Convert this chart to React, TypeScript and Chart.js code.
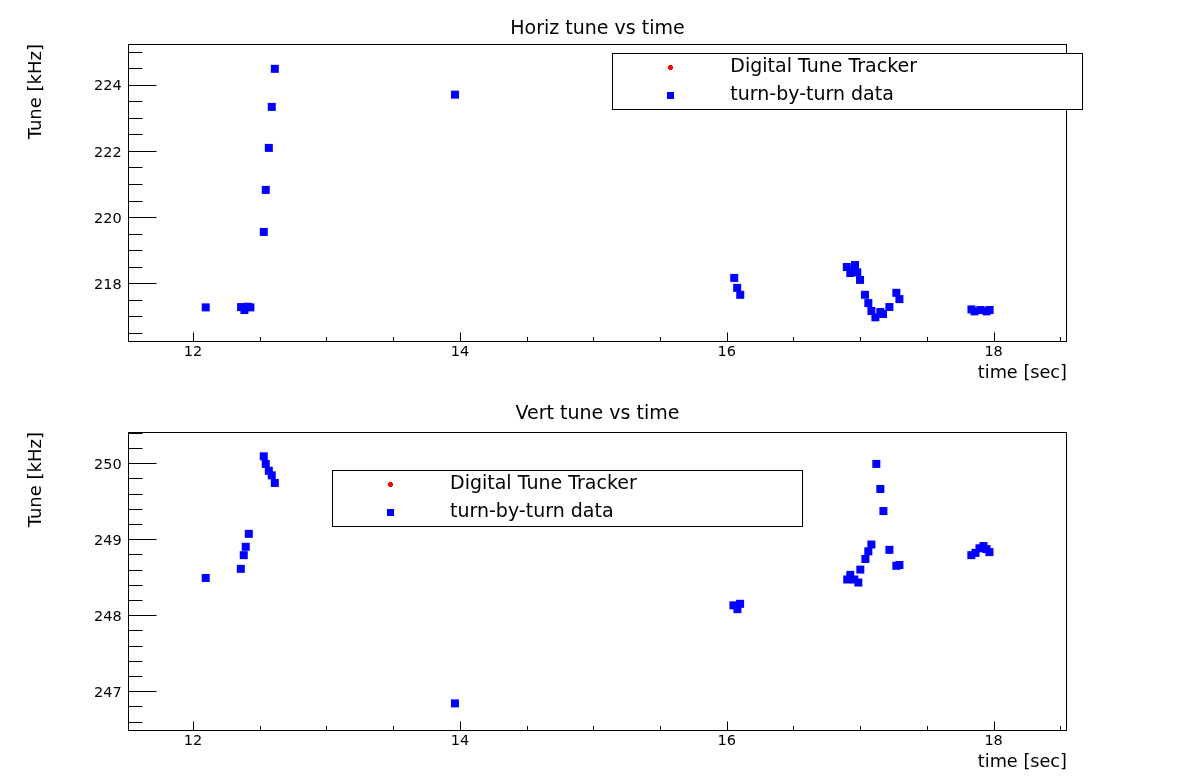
import React, { useEffect, useRef } from "react";
import { Chart, registerables } from "chart.js";

Chart.register(...registerables);

const FONT = "'DejaVu Sans', 'Liberation Sans', sans-serif";

// ---------- data ----------
const horizTime = [
  12.095, 12.36, 12.385, 12.41, 12.43, 12.53, 12.545, 12.568, 12.59, 12.613,
  13.963, 16.056, 16.078, 16.101, 16.9, 16.926, 16.961, 16.978, 16.999, 17.036,
  17.061, 17.084, 17.114, 17.151, 17.171, 17.219, 17.271, 17.294, 17.834, 17.857,
  17.902, 17.947, 17.97,
];
const horizTune = [
  217.27, 217.28, 217.19, 217.29, 217.27, 219.55, 220.82, 222.09, 223.33, 224.48,
  223.7, 218.16, 217.86, 217.65, 218.49, 218.31, 218.55, 218.33, 218.1, 217.65,
  217.4, 217.16, 216.97, 217.13, 217.07, 217.28, 217.71, 217.52, 217.21, 217.15,
  217.19, 217.15, 217.19,
];

const vertTime = [
  12.095, 12.358, 12.38, 12.395, 12.418, 12.53, 12.545, 12.568, 12.59, 12.613,
  13.963, 16.05, 16.08, 16.1, 16.903, 16.926, 16.956, 16.986, 17.001, 17.039,
  17.061, 17.084, 17.121, 17.151, 17.174, 17.219, 17.271, 17.294, 17.833, 17.864,
  17.894, 17.924, 17.947, 17.969,
];
const vertTune = [
  248.49, 248.61, 248.79, 248.9, 249.07, 250.09, 249.99, 249.9, 249.84, 249.74,
  246.84, 248.13, 248.08, 248.15, 248.47, 248.53, 248.47, 248.43, 248.6, 248.74,
  248.84, 248.93, 249.99, 249.66, 249.37, 248.86, 248.65, 248.66, 248.79, 248.82,
  248.88, 248.91, 248.87, 248.83,
];

// Digital Tune Tracker series (no points inside the plotted range)
const dttHorizTime: number[] = [];
const dttHorizTune: number[] = [];
const dttVertTime: number[] = [];
const dttVertTune: number[] = [];

const timeTicks = [12, 14, 16, 18];
const horizTuneTicks = [218, 220, 222, 224];
const vertTuneTicks = [247, 248, 249, 250];

const legendLabels = ["Digital Tune Tracker", "turn-by-turn data"];
const padTitles = ["Horiz tune vs time", "Vert tune vs time"];
const xAxisTitle = "time [sec]";
const yAxisTitle = "Tune [kHz]";

// ---------- plugins ----------
const rootFramePlugin = {
  id: "rootFrame",
  beforeDatasetsDraw(chart: any, _args: any, opts: any) {
    const { ctx, chartArea: a, scales } = chart;
    const xs = scales.x;
    const ys = scales.y;
    ctx.save();
    ctx.strokeStyle = "#000";
    ctx.lineWidth = 1;
    const L = Math.floor(a.left) + 0.5;
    const R = Math.floor(a.right) - 0.5;
    const T = Math.floor(a.top) + 0.5;
    const B = Math.floor(a.bottom) + 0.5;
    ctx.strokeRect(L, T, R - L, B - T);

    ctx.beginPath();
    const xTick = (v: number, len: number) => {
      const px = Math.round(xs.getPixelForValue(v)) + 0.5;
      ctx.moveTo(px, B);
      ctx.lineTo(px, B - len);
    };
    const yTick = (v: number, len: number) => {
      const py = Math.round(ys.getPixelForValue(v)) + 0.5;
      ctx.moveTo(L, py);
      ctx.lineTo(L + len, py);
    };
    const eps = 1e-9;
    for (let i = Math.ceil(xs.min / opts.xMinor - eps); i * opts.xMinor <= xs.max + eps; i++) {
      const v = i * opts.xMinor;
      const major = opts.xMajor.some((m: number) => Math.abs(m - v) < 1e-6);
      xTick(v, major ? opts.xMajorLen : opts.xMinorLen);
    }
    for (let i = Math.ceil(ys.min / opts.yMinor - eps); i * opts.yMinor <= ys.max + eps; i++) {
      const v = i * opts.yMinor;
      const major = opts.yMajor.some((m: number) => Math.abs(m - v) < 1e-6);
      yTick(v, major ? opts.yMajorLen : opts.yMinorLen);
    }
    ctx.stroke();
    ctx.restore();
  },
};

const rootLegendPlugin = {
  id: "rootLegend",
  afterDraw(chart: any, _args: any, opts: any) {
    const { ctx } = chart;
    const b = opts.box;
    ctx.save();
    ctx.fillStyle = "#fff";
    ctx.fillRect(b.left, b.top, b.width, b.height);
    ctx.strokeStyle = "#000";
    ctx.lineWidth = 1;
    ctx.strokeRect(Math.floor(b.left) + 0.5, Math.floor(b.top) + 0.5, Math.round(b.width), Math.round(b.height));
    const dsets = chart.data.datasets;
    const n = dsets.length;
    dsets.forEach((ds: any, i: number) => {
      const cy = b.top + (b.height * (2 * i + 1)) / (2 * n);
      const mx = b.left + opts.markerX;
      ctx.fillStyle = ds.backgroundColor;
      if (ds.pointStyle === "rect") {
        ctx.fillRect(Math.round(mx - 3.5), Math.round(cy - 3.5), 7, 7);
      } else {
        ctx.fillRect(Math.round(mx - 2.5), Math.round(cy - 1.5), 5, 3);
        ctx.fillRect(Math.round(mx - 1.5), Math.round(cy - 2.5), 3, 5);
      }
      ctx.fillStyle = "#000";
      ctx.font = `${opts.fontSize}px ${FONT}`;
      ctx.textAlign = "left";
      ctx.textBaseline = "middle";
      ctx.fillText(ds.label, b.left + opts.textX, cy);
    });
    ctx.restore();
  },
};

type PadCfg = {
  title: string;
  titlePad: { top: number; bottom: number };
  xAxisHeight: number;
  xTitlePadBottom: number;
  yMin: number;
  yMax: number;
  yTicks: number[];
  yMinor: number;
  dttX: number[];
  dttY: number[];
  x: number[];
  y: number[];
  legendBox: { left: number; top: number; width: number; height: number };
};

function buildConfig(p: PadCfg): any {
  return {
    type: "scatter",
    data: {
      datasets: [
        {
          label: legendLabels[0],
          data: p.dttX.map((t, i) => ({ x: t, y: p.dttY[i] })),
          pointStyle: "star",
          pointRadius: 2.5,
          backgroundColor: "#ff0000",
          borderColor: "#ff0000",
          borderWidth: 1.5,
        },
        {
          label: legendLabels[1],
          data: p.x.map((t, i) => ({ x: t, y: p.y[i] })),
          pointStyle: "rect",
          pointRadius: 5.66,
          pointHoverRadius: 5.66,
          backgroundColor: "#0000ff",
          borderColor: "#0000ff",
          borderWidth: 0,
        },
      ],
    },
    plugins: [rootFramePlugin, rootLegendPlugin],
    options: {
      responsive: false,
      animation: false,
      events: [],
      layout: { padding: { left: 0, right: 131, top: 0, bottom: 0 } },
      plugins: {
        legend: { display: false },
        tooltip: { enabled: false },
        title: {
          display: true,
          text: p.title,
          fullSize: false,
          color: "#000",
          font: { family: FONT, size: 19, weight: "normal", lineHeight: 1.2 },
          padding: p.titlePad,
        },
        rootFrame: {
          xMajor: timeTicks,
          xMinor: 0.5,
          xMajorLen: 9,
          xMinorLen: 4.5,
          yMajor: p.yTicks,
          yMinor: p.yMinor,
          yMajorLen: 28,
          yMinorLen: 14,
        },
        rootLegend: {
          box: p.legendBox,
          markerX: 58,
          textX: 118,
          fontSize: 19,
        },
      },
      scales: {
        x: {
          type: "linear",
          position: "bottom",
          min: 11.5125,
          max: 18.55,
          grid: { display: false, drawTicks: false },
          border: { display: false },
          afterBuildTicks: (s: any) => {
            s.ticks = timeTicks.map((v) => ({ value: v }));
          },
          afterFit: (s: any) => {
            s.height = p.xAxisHeight;
          },
          ticks: {
            color: "#000",
            font: { family: FONT, size: 14.5 },
            padding: 3,
            autoSkip: false,
            maxRotation: 0,
            callback: (v: any) => String(v),
          },
          title: {
            display: true,
            text: xAxisTitle,
            align: "end",
            color: "#000",
            font: { family: FONT, size: 17.7 },
            padding: { top: 0, bottom: p.xTitlePadBottom },
          },
        },
        y: {
          type: "linear",
          position: "left",
          min: p.yMin,
          max: p.yMax,
          grid: { display: false, drawTicks: false },
          border: { display: false },
          afterBuildTicks: (s: any) => {
            s.ticks = p.yTicks.map((v) => ({ value: v }));
          },
          afterFit: (s: any) => {
            s.width = 128;
          },
          ticks: {
            color: "#000",
            font: { family: FONT, size: 14.5 },
            padding: 6.3,
            labelOffset: 2,
            autoSkip: false,
            callback: (v: any) => String(v),
          },
          title: {
            display: true,
            text: yAxisTitle,
            align: "end",
            color: "#000",
            font: { family: FONT, size: 18 },
            padding: { top: 25.2, bottom: 0 },
          },
        },
      },
    },
  };
}

const horizPad: PadCfg = {
  title: padTitles[0],
  titlePad: { top: 17.5, bottom: 3.7 },
  xAxisHeight: 47,
  xTitlePadBottom: 4.4,
  yMin: 216.254,
  yMax: 225.23,
  yTicks: horizTuneTicks,
  yMinor: 0.5,
  dttX: dttHorizTime,
  dttY: dttHorizTune,
  x: horizTime,
  y: horizTune,
  legendBox: { left: 612.3, top: 53.3, width: 470.4, height: 55.7 },
};

const vertPad: PadCfg = {
  title: padTitles[1],
  titlePad: { top: 15, bottom: 6.2 },
  xAxisHeight: 46,
  xTitlePadBottom: 3.4,
  yMin: 246.49,
  yMax: 250.41,
  yTicks: vertTuneTicks,
  yMinor: 0.2,
  dttX: dttVertTime,
  dttY: dttVertTune,
  x: vertTime,
  y: vertTune,
  legendBox: { left: 332, top: 82, width: 470, height: 56 },
};

function TunePad({ cfg }: { cfg: PadCfg }) {
  const ref = useRef<HTMLCanvasElement>(null);
  useEffect(() => {
    const chart = new Chart(ref.current as HTMLCanvasElement, buildConfig(cfg));
    return () => chart.destroy();
  }, [cfg]);
  return (
    <canvas
      ref={ref}
      width={1198}
      height={388}
      style={{ display: "block", width: 1198, height: 388 }}
    />
  );
}

export default function App() {
  return (
    <div
      style={{
        position: "absolute",
        left: 0,
        top: 0,
        width: 1198,
        height: 776,
        background: "#fff",
        overflow: "hidden",
      }}
    >
      <TunePad cfg={horizPad} />
      <TunePad cfg={vertPad} />
    </div>
  );
}
